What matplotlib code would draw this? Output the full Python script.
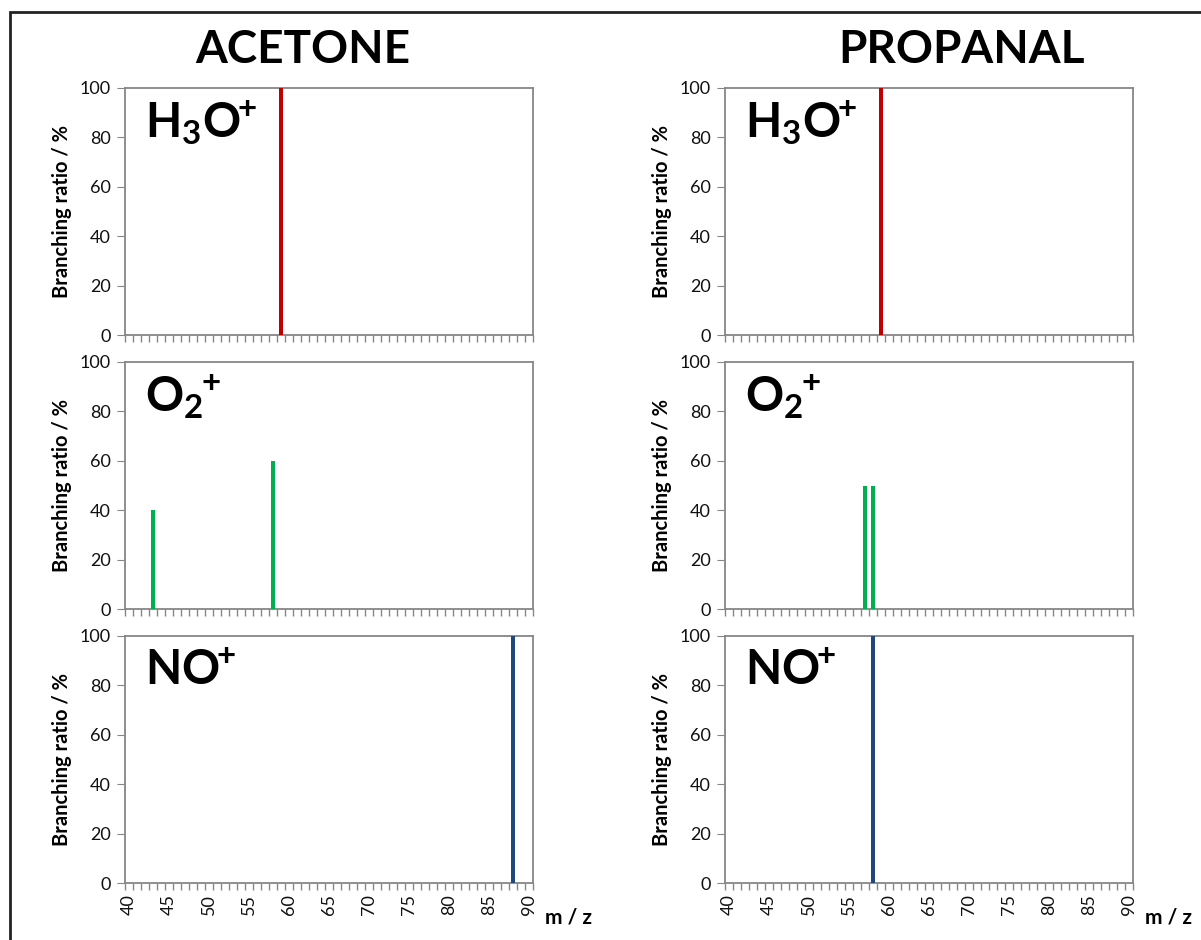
import numpy as np
import matplotlib
matplotlib.use('Agg')
import matplotlib.pyplot as plt
from matplotlib.patches import Rectangle

# ---- data ----
compounds = ['ACETONE', 'PROPANAL']
ions = [r'$\mathbf{H_3O^{\!\!+}}$', r'$\mathbf{O_2{}^{\!\!+}}$', r'$\mathbf{NO^{\!\!+}}$']
ion_colors = ['#C00000', '#00B050', '#1F497D']

# m/z of product ions and branching ratios (%), per compound and ion
acetone_mz = [[59], [43, 58], [88]]
acetone_br = [[100], [40, 60], [100]]
propanal_mz = [[59], [57, 58], [58]]
propanal_br = [[100], [50, 50], [100]]

mz_min, mz_max = 40, 90
xtick_labels = list(range(40, 91, 5))
ytick_values = [0, 20, 40, 60, 80, 100]

# ---- style ----
plt.rcParams['font.family'] = ['Lato', 'DejaVu Sans']
plt.rcParams['mathtext.fontset'] = 'custom'
plt.rcParams['mathtext.bf'] = 'Lato:bold'
plt.rcParams['mathtext.rm'] = 'Lato'
plt.rcParams['mathtext.it'] = 'Lato:italic'
gray = '#868686'

W, H = 1201, 940
fig = plt.figure(figsize=(W / 100, H / 100), dpi=100)

# outer frame
fig.patches.append(Rectangle((10 / W, -0.1), 1.2, 1 - 12 / H + 0.1,
                             transform=fig.transFigure, fill=False,
                             edgecolor='#222222', linewidth=2))

col_left = [125, 725]
ax_w = 408
row_top = [88, 362, 636]
ax_h = 247

data = [(acetone_mz, acetone_br), (propanal_mz, propanal_br)]

for c in range(2):
    mzs, brs = data[c]
    for r in range(3):
        x0 = col_left[c]
        y0 = row_top[r]
        ax = fig.add_axes([x0 / W, 1 - (y0 + ax_h) / H, ax_w / W, ax_h / H])
        ax.bar(mzs[r], brs[r], width=0.5, color=ion_colors[r], zorder=3)
        ax.set_xlim(mz_min - 0.5, mz_max + 0.5)
        ax.set_ylim(0, 100)

        for sp in ax.spines.values():
            sp.set_color(gray)
            sp.set_linewidth(1.3)

        ax.set_yticks(ytick_values)
        ax.tick_params(axis='y', direction='out', length=6, color=gray,
                       labelsize=13, pad=4, labelcolor='#111111')
        ax.set_xticks(np.arange(mz_min - 0.5, mz_max + 1.0, 1.0), minor=True)
        ax.tick_params(axis='x', which='minor', direction='out', length=5,
                       color=gray, width=1)
        ax.set_xticks(xtick_labels)
        ax.tick_params(axis='x', which='major', length=0, labelsize=13,
                       pad=8, labelcolor='#111111')
        if r == 2:
            ax.set_xticklabels([str(v) for v in xtick_labels], rotation=90)
        else:
            ax.set_xticklabels([])

        ax.set_ylabel('Branching ratio / %', fontsize=14.5, fontweight='bold',
                      labelpad=6)

        ax.text(0.05, 0.80, ions[r], transform=ax.transAxes, fontsize=34,
                ha='left', va='baseline')

    # compound title
    fig.text([303, 961][c] / W, 1 - 50 / H, compounds[c], fontsize=33,
             fontweight='bold', ha='center', va='center')
    # m/z label next to last tick
    fig.text((x0 + ax_w + 12) / W, 1 - 917 / H, 'm / z', fontsize=15,
             fontweight='bold', ha='left', va='center')

fig.savefig('out.png', dpi=100)
